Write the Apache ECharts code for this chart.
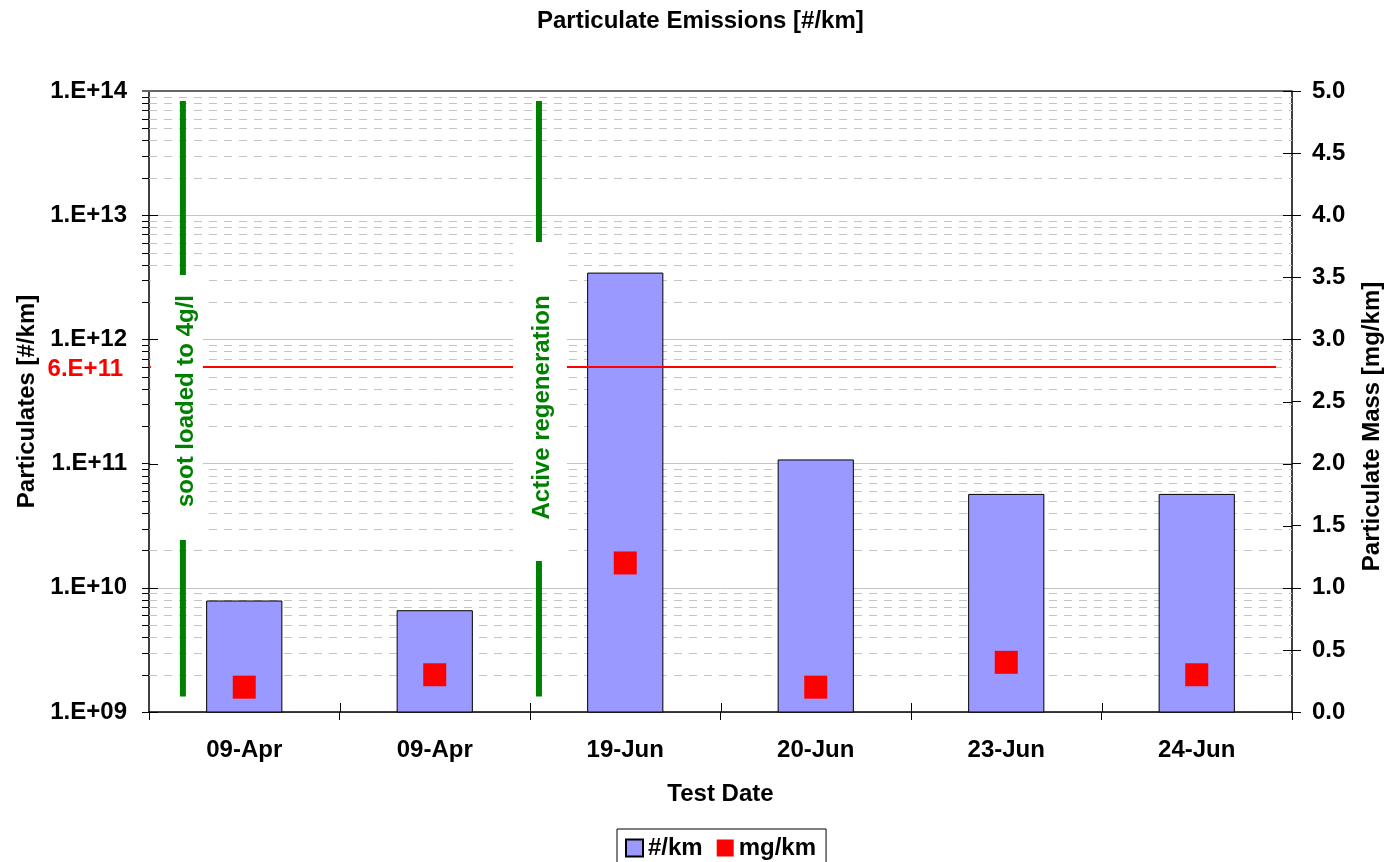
<!DOCTYPE html>
<html>
<head>
<meta charset="utf-8">
<script src="https://cdn.jsdelivr.net/npm/echarts@6/dist/echarts.min.js"></script>
<style>
  html, body { margin: 0; padding: 0; background: #fff; }
  #chart { width: 1385px; height: 862px; }
</style>
</head>
<body>
<div id="chart"></div>
<script>
// ---------------- DATA ----------------
const categories = ['09-Apr', '09-Apr', '19-Jun', '20-Jun', '23-Jun', '24-Jun'];
const particlesPerKm = [7.9e9, 6.6e9, 3.45e12, 1.08e11, 5.7e10, 5.7e10];
const massMgPerKm = [0.2, 0.3, 1.2, 0.2, 0.4, 0.3];
const leftTickLabels = ['1.E+09', '1.E+10', '1.E+11', '1.E+12', '1.E+13', '1.E+14'];
const decadeStarts = [1e9, 1e10, 1e11, 1e12, 1e13];
const limitValue = 6e11;
const limitLabel = '6.E+11';
const limitSpan = [0, 5.916];            // along the hidden 0..6 category-position axis
const annotationTexts = ['soot loaded to 4g/l', 'Active regeneration'];
const annotationX = [0.178, 2.047];      // category-position units
const annotationLineTop = [8.3e13, 8.3e13];
const annotationLineBottom = [1.33e9, 1.33e9];

// ---------------- LAYOUT / STYLE ----------------
const FONT = "'Liberation Sans', Arial, Helvetica, sans-serif";
const annotationLayout = [
  { boxX: [0.01, 0.283], boxY: [3.3e12, 2.43e10], textY: 3.19e11 },
  { boxX: [1.911, 2.194], boxY: [6.09e12, 1.64e10], textY: 2.83e11 }
];

const chart = echarts.init(document.getElementById('chart'), null, { renderer: 'canvas' });

function decorRender(params, api) {
  const cs = params.coordSys;
  const left = cs.x, right = cs.x + cs.width, top = cs.y, bottom = cs.y + cs.height;
  const base = api.value(1);
  const children = [];
  for (let k = 2; k <= 9; k++) {
    const y = Math.round(api.coord([0, k * base])[1]) + 0.5;
    children.push({ type: 'line', shape: { x1: left, y1: y, x2: right, y2: y },
      style: { stroke: '#c4c4c4', lineWidth: 1, lineDash: [8, 7] } });
    children.push({ type: 'line', shape: { x1: left - 7, y1: y, x2: left, y2: y },
      style: { stroke: '#000', lineWidth: 1 } });
  }
  if (params.dataIndex === 0) {
    // top frame line
    children.push({ type: 'line', shape: { x1: left - 7, y1: top, x2: right, y2: top },
      style: { stroke: '#666', lineWidth: 2 } });
  }
  return { type: 'group', children };
}

function tickRender(params, api) {
  const cs = params.coordSys;
  const left = cs.x, right = cs.x + cs.width, bottom = cs.y + cs.height;
  const base = api.value(1);
  const children = [];
  const ym = Math.round(api.coord([0, base])[1]) + 0.5;
  children.push({ type: 'line', shape: { x1: left, y1: ym, x2: left + 9, y2: ym },
    style: { stroke: '#000', lineWidth: 1 } });
  if (params.dataIndex === 0) {
    for (let i = 1; i <= 10; i++) {
      const y = Math.round(bottom - i / 10 * cs.height) + 0.5;
      children.push({ type: 'line', shape: { x1: right - 9, y1: y, x2: right, y2: y },
        style: { stroke: '#000', lineWidth: 1 } });
    }
    for (let i = 1; i <= 5; i++) {
      const x = Math.round(left + i / 6 * cs.width) + 0.5;
      children.push({ type: 'line', shape: { x1: x, y1: bottom - 9, x2: x, y2: bottom },
        style: { stroke: '#000', lineWidth: 1 } });
    }
  }
  return { type: 'group', children };
}

function limitRender(params, api) {
  const p0 = api.coord([api.value(0), api.value(2)]);
  const p1 = api.coord([api.value(1), api.value(2)]);
  const cs = params.coordSys;
  return { type: 'group', children: [
    { type: 'line', shape: { x1: p0[0], y1: p0[1], x2: p1[0], y2: p1[1] },
      style: { stroke: '#ff0000', lineWidth: 2 } },
    { type: 'text', x: cs.x - 26, y: p0[1] + 2,
      style: { text: limitLabel, fill: '#ff0000', font: 'bold 24px ' + FONT,
        align: 'right', verticalAlign: 'middle' } }
  ] };
}

function annotationRender(params, api) {
  const i = params.dataIndex;
  const lay = annotationLayout[i];
  const x = api.value(0);
  const pTop = api.coord([x, api.value(1)]);
  const pBot = api.coord([x, api.value(2)]);
  const b0 = api.coord([lay.boxX[0], lay.boxY[0]]);
  const b1 = api.coord([lay.boxX[1], lay.boxY[1]]);
  const pt = api.coord([x, lay.textY]);
  return { type: 'group', children: [
    { type: 'line', shape: { x1: pTop[0], y1: pTop[1], x2: pBot[0], y2: pBot[1] },
      style: { stroke: '#008000', lineWidth: 6 } },
    { type: 'rect', shape: { x: b0[0], y: b0[1], width: b1[0] - b0[0], height: b1[1] - b0[1] },
      style: { fill: '#ffffff' } },
    { type: 'text', x: pt[0] + 3, y: pt[1], rotation: Math.PI / 2,
      style: { text: annotationTexts[i], fill: '#008000', font: 'bold 24px ' + FONT,
        align: 'center', verticalAlign: 'middle' } }
  ] };
}

const option = {
  backgroundColor: '#ffffff',
  animation: false,
  textStyle: { fontFamily: FONT },
  title: {
    text: 'Particulate Emissions [#/km]',
    left: 532, top: 4,
    textStyle: { fontSize: 24, fontWeight: 'bold', color: '#000', fontFamily: FONT }
  },
  grid: { left: 149, right: 93, top: 91, bottom: 150, containLabel: false, outerBoundsMode: 'none' },
  legend: {
    data: [{ name: '#/km', icon: 'rect' }, { name: 'mg/km', icon: 'rect' }],
    left: 617, top: 829,
    orient: 'horizontal',
    padding: [7, 10, 6, 8],
    itemGap: 14,
    itemWidth: 17, itemHeight: 17,
    borderColor: '#000', borderWidth: 1,
    textStyle: { fontSize: 24, fontWeight: 'bold', color: '#000', fontFamily: FONT }
  },
  xAxis: [
    {
      type: 'category', data: categories, boundaryGap: true,
      name: 'Test Date', nameLocation: 'middle', nameGap: 70,
      nameTextStyle: { fontSize: 24, fontWeight: 'bold', color: '#000', fontFamily: FONT },
      axisLine: { lineStyle: { color: '#000', width: 1.5 } },
      axisTick: { show: true, length: 8, lineStyle: { color: '#000' }, alignWithLabel: false },
      axisLabel: { fontSize: 24, fontWeight: 'bold', color: '#000', margin: 26, fontFamily: FONT },
      splitLine: { show: false }
    },
    { type: 'value', min: 0, max: 6, show: false }
  ],
  yAxis: [
    {
      type: 'log', logBase: 10, min: 1e9, max: 1e14, splitNumber: 5,
      position: 'left',
      name: 'Particulates [#/km]', nameLocation: 'middle', nameRotate: 90, nameGap: 110,
      nameTextStyle: { fontSize: 24, fontWeight: 'bold', color: '#000', fontFamily: FONT },
      axisLine: { show: true, lineStyle: { color: '#000', width: 1.5 } },
      axisTick: { show: true, length: 7, lineStyle: { color: '#000' } },
      axisLabel: { fontSize: 24, fontWeight: 'bold', color: '#000', margin: 22, fontFamily: FONT,
        formatter: v => leftTickLabels[Math.round(Math.log10(v)) - 9] },
      splitLine: { show: true, lineStyle: { color: '#c4c4c4', width: 1 } }
    },
    {
      type: 'value', min: 0, max: 5, interval: 0.5,
      position: 'right',
      name: 'Particulate Mass [mg/km]', nameLocation: 'middle', nameRotate: 90, nameGap: 68,
      nameTextStyle: { fontSize: 24, fontWeight: 'bold', color: '#000', fontFamily: FONT, padding: [0, 50, 0, 0] },
      axisLine: { show: true, lineStyle: { color: '#000', width: 1.5 } },
      axisTick: { show: true, length: 9, lineStyle: { color: '#000' } },
      axisLabel: { fontSize: 24, fontWeight: 'bold', color: '#000', margin: 20, fontFamily: FONT,
        formatter: v => v.toFixed(1) },
      splitLine: { show: false }
    }
  ],
  series: [
    {
      name: 'decor', type: 'custom', xAxisIndex: 1, yAxisIndex: 0, z: 1, silent: true,
      renderItem: decorRender, clip: false,
      encode: { x: 0, y: 1 },
      data: decadeStarts.map(v => [0, v])
    },
    {
      name: '#/km', type: 'bar', xAxisIndex: 0, yAxisIndex: 0, z: 2,
      barWidth: '40%',
      itemStyle: { color: '#9999ff', borderColor: '#000', borderWidth: 1 },
      data: particlesPerKm
    },
    {
      name: 'limit', type: 'custom', xAxisIndex: 1, yAxisIndex: 0, z: 3, silent: true,
      renderItem: limitRender, clip: false,
      encode: { x: [0, 1], y: 2 },
      data: [[limitSpan[0], limitSpan[1], limitValue]]
    },
    {
      name: 'annotations', type: 'custom', xAxisIndex: 1, yAxisIndex: 0, z: 4, silent: true,
      renderItem: annotationRender, clip: false,
      encode: { x: 0, y: [1, 2] },
      data: annotationX.map((x, i) => [x, annotationLineTop[i], annotationLineBottom[i]])
    },
    {
      name: 'ticks', type: 'custom', xAxisIndex: 1, yAxisIndex: 0, z: 6, silent: true,
      renderItem: tickRender, clip: false,
      encode: { x: 0, y: 1 },
      data: decadeStarts.map(v => [0, v])
    },
    {
      name: 'mg/km', type: 'scatter', xAxisIndex: 0, yAxisIndex: 1, z: 5,
      symbol: 'rect', symbolSize: 23,
      itemStyle: { color: '#ff0000', opacity: 1 },
      data: massMgPerKm
    }
  ]
};
chart.setOption(option);
</script>
</body>
</html>
